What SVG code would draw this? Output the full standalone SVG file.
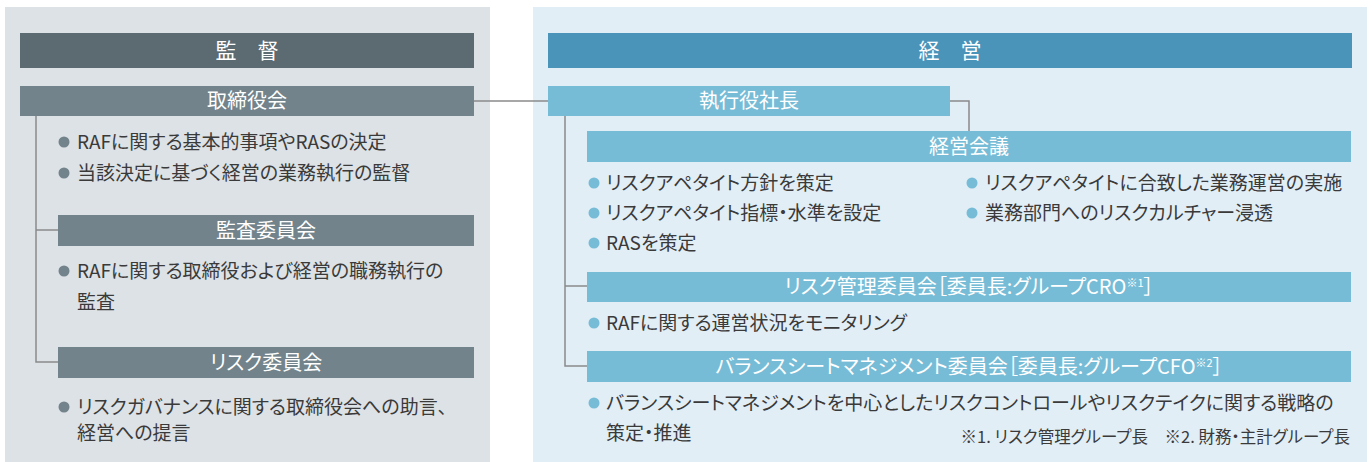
<svg xmlns="http://www.w3.org/2000/svg" width="1372" height="462" viewBox="0 0 1372 462">
<style>
text{font-family:"Noto Sans CJK JP","Noto Sans",sans-serif;font-feature-settings:"palt";}
.hd{font-size:21px;fill:#fff;text-anchor:middle;}
.ti{font-size:20px;fill:#fff;text-anchor:middle;}
.tx{font-size:19px;fill:#3a3a3a;}
.fn{font-size:16.5px;fill:#3a3a3a;text-anchor:end;}
.sup{font-size:11px;}
.gb{fill:#72838b;}
.bb{fill:#77bcd6;}
.cn{fill:none;stroke:#8a8a8a;stroke-width:1.5;}
</style>
<rect x="5" y="7" width="485" height="455" fill="#dde2e6"/>
<rect x="533" y="7" width="834" height="455" fill="#e2eef6"/>
<g id="connectors">
<path class="cn" d="M474 101H548"/>
<path class="cn" d="M950 101H969V131"/>
<path class="cn" d="M36 116V362H58M36 230H58"/>
<path class="cn" d="M565 116V366H587M565 286H587"/>
</g>
<g id="kantoku">
<rect x="20" y="33" width="454" height="35" fill="#5c6a71"/>
<text class="hd" x="247" y="58">監　督</text>
</g>
<g id="torishimariyakukai">
<rect class="gb" x="20" y="86" width="454" height="30"/>
<text class="ti" x="247" y="108">取締役会</text>
<circle class="gb" cx="64" cy="142" r="5.5"/>
<text class="tx" x="77" y="148.5">RAFに関する基本的事項やRASの決定</text>
<circle class="gb" cx="64" cy="173" r="5.5"/>
<text class="tx" x="77" y="179.5">当該決定に基づく経営の業務執行の監督</text>
</g>
<g id="kansa">
<rect class="gb" x="58" y="215" width="416" height="31"/>
<text class="ti" x="266" y="237.5">監査委員会</text>
<circle class="gb" cx="64" cy="271" r="5.5"/>
<text class="tx" x="77" y="277.5">RAFに関する取締役および経営の職務執行の</text>
<text class="tx" x="77" y="308.5">監査</text>
</g>
<g id="risk-iinkai">
<rect class="gb" x="58" y="347" width="416" height="31"/>
<text class="ti" x="266" y="369.5">リスク委員会</text>
<circle class="gb" cx="64" cy="407" r="5.5"/>
<text class="tx" x="77" y="413.5">リスクガバナンスに関する取締役会への助言、</text>
<text class="tx" x="77" y="439.5">経営への提言</text>
</g>
<g id="keiei">
<rect x="548" y="33" width="804" height="35" fill="#4a94ba"/>
<text class="hd" x="950" y="58">経　営</text>
</g>
<g id="shacho">
<rect class="bb" x="548" y="86" width="402" height="30"/>
<text class="ti" x="749" y="108">執行役社長</text>
</g>
<g id="keiei-kaigi">
<rect class="bb" x="587" y="131" width="764" height="31"/>
<text class="ti" x="969" y="153.5">経営会議</text>
<circle class="bb" cx="594" cy="183" r="5.5"/>
<text class="tx" x="606" y="189.5">リスクアペタイト方針を策定</text>
<circle class="bb" cx="594" cy="213" r="5.5"/>
<text class="tx" x="606" y="219.5">リスクアペタイト指標・水準を設定</text>
<circle class="bb" cx="594" cy="243" r="5.5"/>
<text class="tx" x="606" y="249.5">RASを策定</text>
<circle class="bb" cx="972" cy="183" r="5.5"/>
<text class="tx" x="985" y="189.5">リスクアペタイトに合致した業務運営の実施</text>
<circle class="bb" cx="972" cy="213" r="5.5"/>
<text class="tx" x="985" y="219.5">業務部門へのリスクカルチャー浸透</text>
</g>
<g id="risk-kanri">
<rect class="bb" x="587" y="272" width="764" height="30"/>
<text class="ti" x="969" y="294">リスク管理委員会［委員長:グループCRO<tspan class="sup" dy="-7">※1</tspan><tspan dy="7">］</tspan></text>
<circle class="bb" cx="594" cy="323" r="5.5"/>
<text class="tx" x="606" y="329.5">RAFに関する運営状況をモニタリング</text>
</g>
<g id="bsm">
<rect class="bb" x="587" y="351" width="764" height="31"/>
<text class="ti" x="969" y="373.5">バランスシートマネジメント委員会［委員長:グループCFO<tspan class="sup" dy="-7">※2</tspan><tspan dy="7">］</tspan></text>
<circle class="bb" cx="594" cy="403" r="5.5"/>
<text class="tx" x="606" y="409.5">バランスシートマネジメントを中心としたリスクコントロールやリスクテイクに関する戦略の</text>
<text class="tx" x="606" y="439.5">策定・推進</text>
</g>
<text class="fn" x="1350" y="443">※1. リスク管理グループ長　※2. 財務・主計グループ長</text>
</svg>
